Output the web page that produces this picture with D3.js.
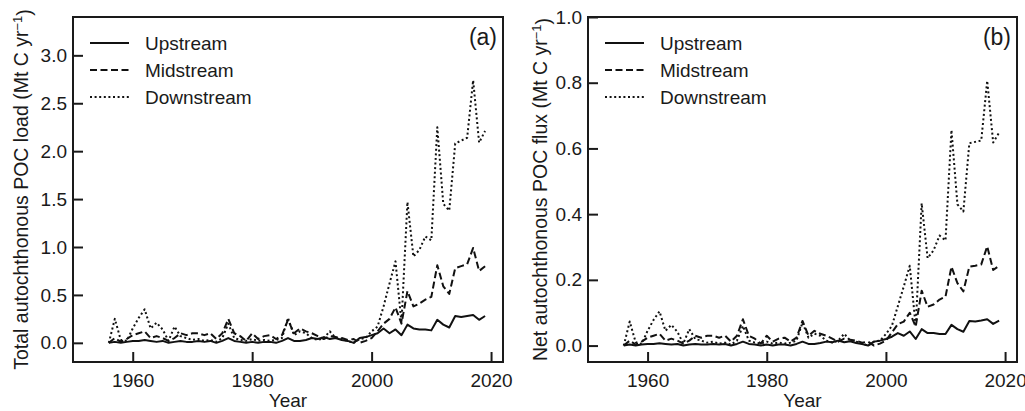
<!DOCTYPE html>
<html>
<head>
<meta charset="utf-8">
<script src="https://cdn.jsdelivr.net/npm/d3@7/dist/d3.min.js"></script>
<style>
body { margin: 0; background: #fff; }
text { font-family: "Liberation Sans", Arial, sans-serif; fill: #1a1a1a; }
</style>
</head>
<body>
<div id="chart"></div>
<script>
var years = [1956,1957,1958,1959,1960,1961,1962,1963,1964,1965,1966,1967,1968,1969,1970,1971,1972,1973,1974,1975,
	1976,1977,1978,1979,1980,1981,1982,1983,1984,1985,1986,1987,1988,1989,1990,1991,1992,1993,1994,1995,
	1996,1997,1998,1999,2000,2001,2002,2003,2004,2005,2006,2007,2008,2009,2010,2011,2012,2013,2014,2015,
	2016,2017,2018,2019];

// (a) total autochthonous POC load
var upLoad = [0.00,0.01,0.00,0.01,0.02,0.02,0.03,0.02,0.01,0.02,0.00,0.01,0.02,0.01,0.01,0.02,0.01,0.02,0.00,0.02,
	0.05,0.02,0.01,0.00,0.01,0.00,0.01,0.01,0.00,0.02,0.05,0.02,0.02,0.03,0.05,0.04,0.06,0.04,0.05,0.03,
	0.02,0.00,0.05,0.06,0.08,0.10,0.15,0.10,0.14,0.08,0.19,0.15,0.14,0.14,0.13,0.24,0.19,0.16,0.28,0.27,
	0.28,0.29,0.24,0.28];
var midLoad = [0.00,0.05,0.01,0.04,0.08,0.10,0.12,0.05,0.07,0.05,0.02,0.05,0.10,0.08,0.10,0.10,0.08,0.10,0.04,0.10,
	0.25,0.10,0.07,0.02,0.10,0.04,0.07,0.08,0.04,0.08,0.24,0.10,0.15,0.12,0.10,0.07,0.04,0.07,0.06,0.05,
	0.03,0.04,0.00,0.02,0.05,0.12,0.20,0.25,0.37,0.20,0.54,0.38,0.41,0.45,0.48,0.81,0.59,0.51,0.78,0.80,
	0.82,0.99,0.75,0.80];
var downLoad = [0.00,0.25,0.03,0.02,0.15,0.26,0.35,0.15,0.21,0.14,0.02,0.17,0.07,0.05,0.03,0.04,0.02,0.03,0.01,0.05,
	0.20,0.05,0.03,0.02,0.04,0.02,0.03,0.02,0.03,0.05,0.26,0.08,0.12,0.10,0.05,0.03,0.05,0.12,0.05,0.04,
	0.02,0.00,0.04,0.05,0.12,0.17,0.38,0.62,0.85,0.21,1.47,0.90,0.97,1.11,1.07,2.25,1.45,1.38,2.08,2.11,
	2.14,2.74,2.09,2.21];

// (b) net autochthonous POC flux
var upFlux = [0.000,0.003,0.000,0.003,0.005,0.005,0.007,0.005,0.003,0.005,0.000,0.003,0.005,0.003,0.003,0.005,0.003,0.005,0.000,0.005,
	0.012,0.005,0.003,0.000,0.003,0.000,0.003,0.003,0.000,0.005,0.012,0.005,0.005,0.008,0.012,0.010,0.015,0.010,0.013,0.008,
	0.005,0.000,0.012,0.015,0.020,0.027,0.038,0.030,0.043,0.020,0.050,0.038,0.038,0.035,0.035,0.063,0.050,0.042,0.075,0.073,
	0.076,0.080,0.066,0.076];
var midFlux = [0.000,0.015,0.003,0.012,0.024,0.030,0.036,0.015,0.021,0.015,0.006,0.015,0.030,0.024,0.030,0.030,0.024,0.030,0.012,0.030,
	0.080,0.030,0.021,0.006,0.030,0.012,0.021,0.024,0.012,0.024,0.075,0.030,0.045,0.036,0.030,0.021,0.012,0.021,0.018,0.015,
	0.009,0.012,0.000,0.006,0.015,0.040,0.065,0.073,0.100,0.058,0.167,0.118,0.125,0.140,0.149,0.240,0.190,0.165,0.240,0.243,
	0.247,0.302,0.230,0.243];
var downFlux = [0.000,0.073,0.010,0.005,0.045,0.078,0.104,0.045,0.063,0.042,0.006,0.050,0.020,0.015,0.009,0.012,0.006,0.009,0.003,0.015,
	0.060,0.015,0.009,0.006,0.012,0.006,0.009,0.006,0.009,0.015,0.070,0.024,0.036,0.030,0.015,0.009,0.015,0.036,0.015,0.012,
	0.006,0.000,0.012,0.015,0.035,0.060,0.120,0.180,0.243,0.058,0.433,0.266,0.290,0.335,0.320,0.656,0.430,0.408,0.616,0.620,
	0.624,0.806,0.618,0.648];

var seriesNames = ["Upstream", "Midstream", "Downstream"];
var xTicks = [1960, 1980, 2000, 2020];
var yTicksLoad = [0, 0.5, 1.0, 1.5, 2.0, 2.5, 3.0];
var yTicksFlux = [0, 0.2, 0.4, 0.6, 0.8, 1.0];

var width = 1025,
	height = 411;

var plotTop = 17,
	plotBottom = 362;

var fontSize = 19;

var dashes = ["none", "7,3.5", "2,2.6"];

var panels = [
	{left: 73, right: 503, yDomain: [-0.2, 3.4], yTicks: yTicksLoad, series: [upLoad, midLoad, downLoad],
	 tag: "(a)", yLabel: "Total autochthonous POC load (Mt C yr", labelX: 21},
	{left: 588, right: 1017, yDomain: [-0.05, 1.0], yTicks: yTicksFlux, series: [upFlux, midFlux, downFlux],
	 tag: "(b)", yLabel: "Net autochthonous POC flux (Mt C yr", labelX: 540}
];

var svg = d3.select("#chart").append("svg")
	.attr("width", width)
	.attr("height", height);

panels.forEach(function(p) {
	var x = d3.scaleLinear().domain([1950, 2022]).range([p.left, p.right]);
	var y = d3.scaleLinear().domain(p.yDomain).range([plotBottom, plotTop]);

	var g = svg.append("g");

	// axes, ticks pointing inward
	var xAxis = g.append("g")
		.attr("transform", "translate(0," + plotBottom + ")")
		.call(d3.axisBottom(x).tickValues(xTicks).tickFormat(d3.format("d"))
			.tickSizeInner(-10).tickSizeOuter(0).tickPadding(9));
	var yAxis = g.append("g")
		.attr("transform", "translate(" + p.left + ",0)")
		.call(d3.axisLeft(y).tickValues(p.yTicks).tickFormat(d3.format(".1f"))
			.tickSizeInner(-10).tickSizeOuter(0).tickPadding(6));

	[xAxis, yAxis].forEach(function(a) {
		a.select(".domain").remove();
		a.attr("font-size", fontSize).attr("font-family", null);
		a.selectAll(".tick line").attr("stroke", "#1a1a1a").attr("stroke-width", 2);
	});
	xAxis.selectAll(".tick text").attr("dy", "0.85em");

	// frame
	g.append("rect")
		.attr("x", p.left)
		.attr("y", plotTop)
		.attr("width", p.right - p.left)
		.attr("height", plotBottom - plotTop)
		.attr("fill", "none")
		.attr("stroke", "#1a1a1a")
		.attr("stroke-width", 2);

	// series lines
	p.series.forEach(function(vals, i) {
		var line = d3.line()
			.x(function(d, j) { return x(years[j]); })
			.y(function(d) { return y(d); });
		g.append("path")
			.datum(vals)
			.attr("d", line)
			.attr("fill", "none")
			.attr("stroke", "#111")
			.attr("stroke-width", 2)
			.attr("stroke-linejoin", "round")
			.attr("stroke-dasharray", dashes[i]);
	});

	// legend
	seriesNames.forEach(function(name, i) {
		var ly = 43 + i * 27;
		g.append("line")
			.attr("x1", p.left + 17).attr("x2", p.left + 56)
			.attr("y1", ly).attr("y2", ly)
			.attr("stroke", "#111")
			.attr("stroke-width", 2)
			.attr("stroke-dasharray", dashes[i]);
		g.append("text")
			.attr("x", p.left + 72)
			.attr("y", ly + 7)
			.attr("font-size", fontSize)
			.text(name);
	});

	// panel tag
	g.append("text")
		.attr("x", p.right - 6)
		.attr("y", 45)
		.attr("text-anchor", "end")
		.attr("font-size", 23)
		.text(p.tag);

	// axis titles
	g.append("text")
		.attr("x", (p.left + p.right) / 2)
		.attr("y", 407)
		.attr("text-anchor", "middle")
		.attr("font-size", fontSize)
		.text("Year");

	var yl = g.append("text")
		.attr("transform", "translate(" + p.labelX + "," + (plotTop + plotBottom) / 2 + ") rotate(-90)")
		.attr("text-anchor", "middle")
		.attr("dy", "0.35em")
		.attr("font-size", 19.5);
	yl.append("tspan").text(p.yLabel);
	yl.append("tspan").attr("dy", "-0.45em").attr("font-size", 13).text("\u22121");
	yl.append("tspan").attr("dy", "0.45em").text(")");
});
</script>
</body>
</html>
